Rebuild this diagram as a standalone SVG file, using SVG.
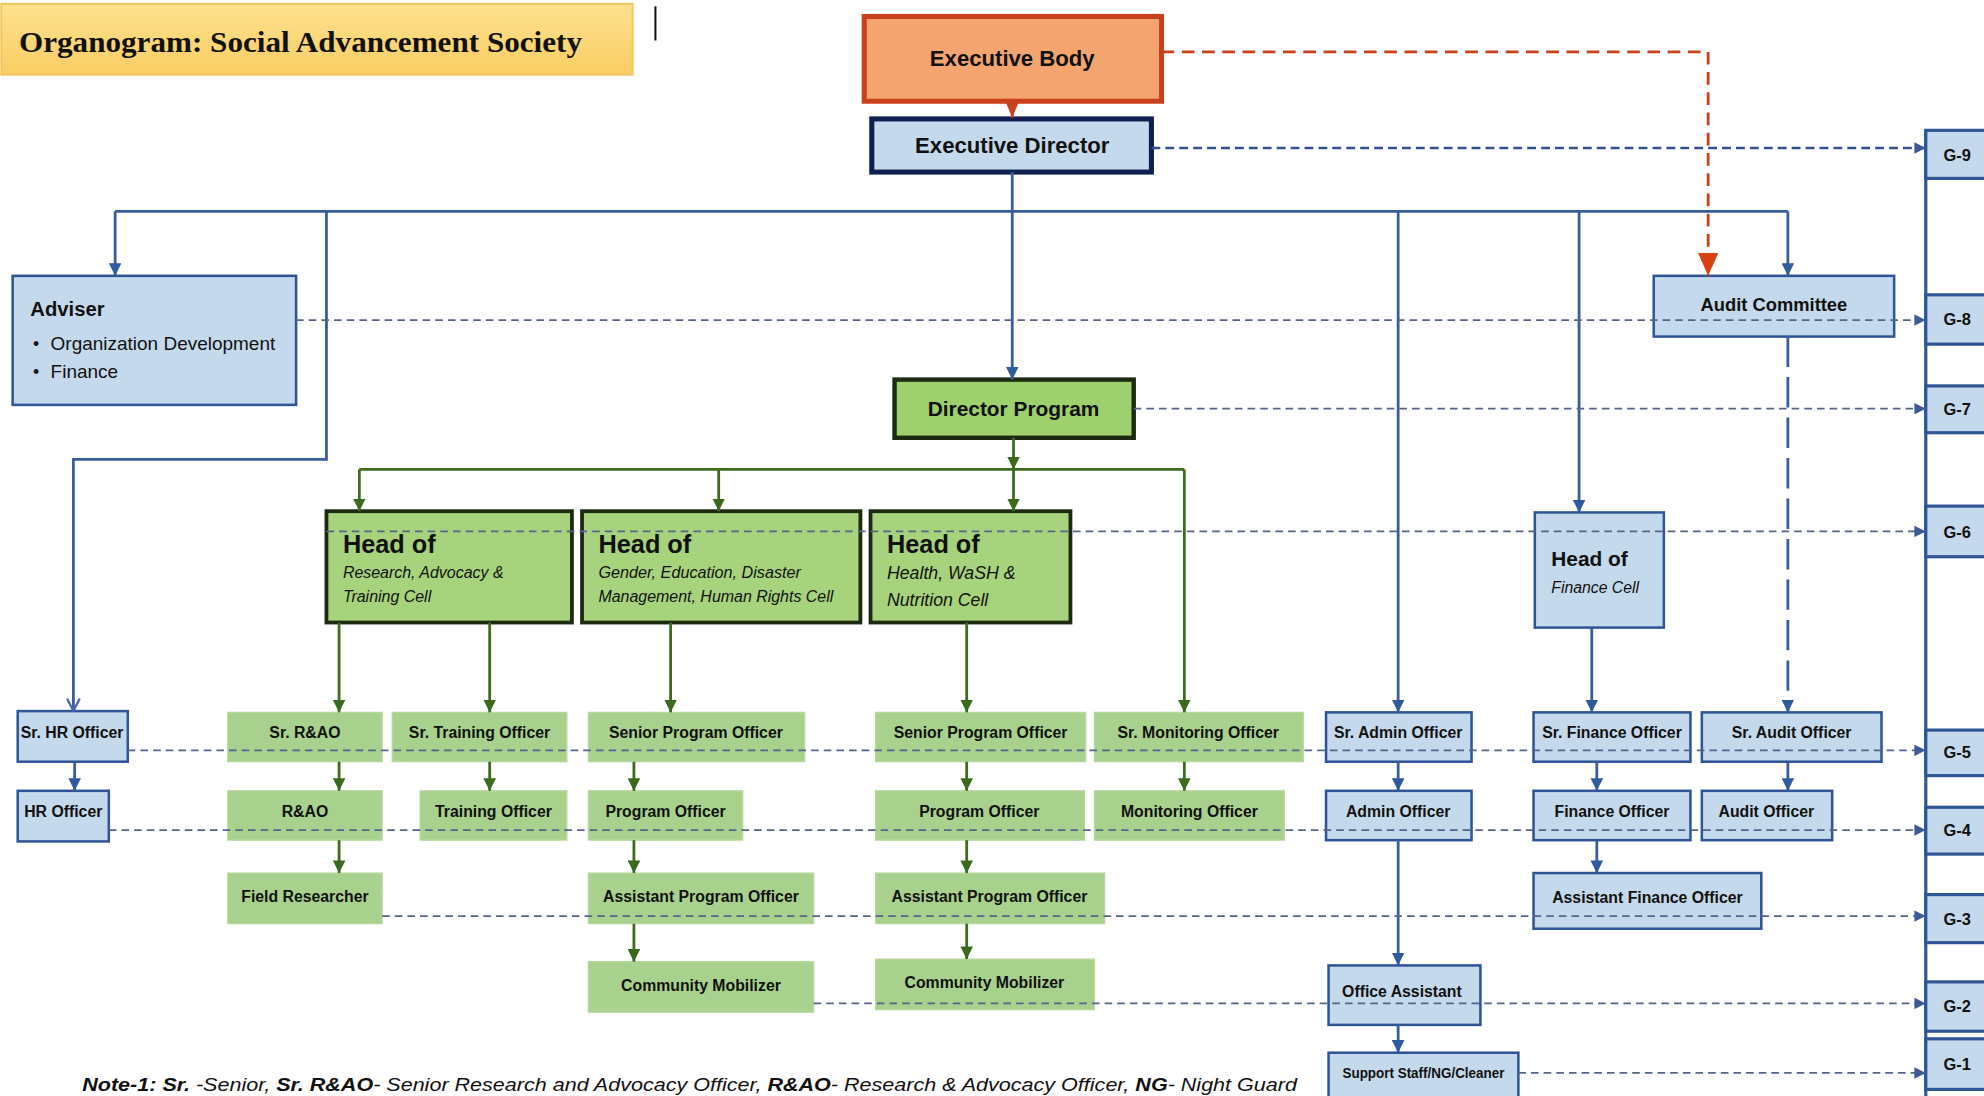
<svg xmlns="http://www.w3.org/2000/svg" width="1984" height="1096" viewBox="0 0 1984 1096">
<defs>
<linearGradient id="gTitle" x1="0" y1="0" x2="0" y2="1"><stop offset="0" stop-color="#fde18f"/><stop offset="1" stop-color="#f9cd63"/></linearGradient>
<marker id="aBlue" markerUnits="userSpaceOnUse" markerWidth="10" markerHeight="10" viewBox="0 0 10 10" refX="10" refY="5" orient="auto"><path d="M0,0 L10,5 L0,10 z" fill="#2f5a9e"/></marker>
<marker id="aOpen" markerUnits="userSpaceOnUse" markerWidth="12" markerHeight="12" viewBox="0 0 12 12" refX="11" refY="6" orient="auto"><path d="M1,1 L11,6 L1,11" fill="none" stroke="#4a68b0" stroke-width="1.8"/></marker>
<marker id="aGreen" markerUnits="userSpaceOnUse" markerWidth="10" markerHeight="10" viewBox="0 0 10 10" refX="10" refY="5" orient="auto"><path d="M0,0 L10,5 L0,10 z" fill="#3b6a1c"/></marker>
<marker id="aRed" markerUnits="userSpaceOnUse" markerWidth="12" markerHeight="10" viewBox="0 0 12 10" refX="12" refY="5" orient="auto"><path d="M0,0 L12,5 L0,10 z" fill="#c8401c"/></marker>
<marker id="aRedBig" markerUnits="userSpaceOnUse" markerWidth="18" markerHeight="16" viewBox="0 0 18 16" refX="18" refY="8" orient="auto"><path d="M0,0 L18,8 L0,16 z" fill="#d9400f"/></marker>
<marker id="aDash" markerUnits="userSpaceOnUse" markerWidth="9" markerHeight="9" viewBox="0 0 10 10" refX="10" refY="5" orient="auto"><path d="M0,0 L10,5 L0,10 z" fill="#3e5a96"/></marker>
</defs>
<style>
.t{font-family:"Liberation Sans Narrow","Liberation Sans",Arial,sans-serif;font-weight:bold;fill:#111;text-anchor:middle}
.g{font-family:"Liberation Sans Narrow","Liberation Sans",Arial,sans-serif;font-weight:bold;fill:#111;text-anchor:start;font-size:13px}
.s{font-family:"Liberation Sans Narrow","Liberation Sans",Arial,sans-serif;fill:#111}
.it{font-style:italic;font-weight:normal}
.blue{fill:#c4d9eb;stroke:#2f5597;stroke-width:2}
.green{fill:#a9d18e;stroke:#b7d9a0;stroke-width:1}
.head{fill:#a7d37d;stroke:#1b2a10;stroke-width:3}
.lb{fill:none;stroke:#3a5b9d;stroke-width:2.2}
.lg{fill:none;stroke:#3e6b1e;stroke-width:2.2}
.dl{fill:none;stroke:#56648a;stroke-width:1.4;stroke-dasharray:6 4}
.gb{fill:#c4d9eb;stroke:#2f5597;stroke-width:2.5}
</style>
<rect width="1984" height="1096" fill="#ffffff"/>
<g transform="scale(1.2653)">
<g id="title">
<rect x="1" y="3" width="499" height="56" fill="url(#gTitle)" stroke="#efc55c" stroke-width="1.5"/>
<text x="15" y="41" font-family="Liberation Serif, serif" font-weight="bold" font-size="24" fill="#111" textLength="445" lengthAdjust="spacingAndGlyphs">Organogram: Social Advancement Society</text>
<line x1="518" y1="5" x2="518" y2="32" stroke="#111" stroke-width="1.6"/>
</g>
<g id="nodes">
<g id="executive-body"><rect x="683" y="13" width="235" height="67" fill="#f4a46f" stroke="#c8401c" stroke-width="4"/><text class="t" x="800" y="52" font-size="17.5">Executive Body</text></g>
<g id="executive-director"><rect x="689" y="94" width="221" height="42" fill="#c4d9eb" stroke="#0f1f4f" stroke-width="4"/><text class="t" x="800" y="121" font-size="17.5">Executive Director</text></g>
<g id="adviser"><rect class="blue" x="10" y="218" width="224" height="102"/><text class="s" x="24" y="250" font-size="16" font-weight="bold">Adviser</text><text class="s" x="26" y="277" font-size="14">•</text><text class="s" x="40" y="277" font-size="15">Organization Development</text><text class="s" x="26" y="299" font-size="14">•</text><text class="s" x="40" y="299" font-size="15">Finance</text></g>
<g id="audit-committee"><rect class="blue" x="1307" y="218" width="190" height="48"/><text class="t" x="1402" y="246" font-size="14.5">Audit Committee</text></g>
<g id="director-program"><rect x="707" y="300" width="189" height="46" fill="#9ed06d" stroke="#1b2a10" stroke-width="3.5"/><text class="t" x="801" y="329" font-size="16.5">Director Program</text></g>
<g id="head-rat"><rect class="head" x="258" y="404" width="194" height="88"/><text class="s" x="271" y="437" font-size="20" font-weight="bold">Head of</text><text class="s it" x="271" y="457" font-size="12.6">Research, Advocacy &amp;</text><text class="s it" x="271" y="476" font-size="12.6">Training Cell</text></g>
<g id="head-gender"><rect class="head" x="460" y="404" width="220" height="88"/><text class="s" x="473" y="437" font-size="20" font-weight="bold">Head of</text><text class="s it" x="473" y="457" font-size="12.8">Gender, Education, Disaster</text><text class="s it" x="473" y="476" font-size="12.6">Management, Human Rights Cell</text></g>
<g id="head-health"><rect class="head" x="688" y="404" width="158" height="88"/><text class="s" x="701" y="437" font-size="20" font-weight="bold">Head of</text><text class="s it" x="701" y="458" font-size="14">Health, WaSH &amp;</text><text class="s it" x="701" y="479" font-size="14">Nutrition Cell</text></g>
<g id="head-finance"><rect class="blue" x="1213" y="405" width="102" height="91"/><text class="s" x="1226" y="447" font-size="16.5" font-weight="bold">Head of</text><text class="s it" x="1226" y="469" font-size="12.5">Finance Cell</text></g>
<g id="sr-hr"><rect class="blue" x="14" y="562" width="87" height="40"/><text class="t" x="57" y="583" font-size="12.5">Sr. HR Officer</text></g>
<g id="hr"><rect class="blue" x="14" y="625" width="72" height="40"/><text class="t" x="50" y="646" font-size="12.5">HR Officer</text></g>
<g id="sr-raao"><rect class="green" x="180" y="563" width="122" height="39"/><text class="t" x="241" y="583" font-size="12.5">Sr. R&amp;AO</text></g>
<g id="sr-training"><rect class="green" x="310" y="563" width="138" height="39"/><text class="t" x="379" y="583" font-size="12.5">Sr. Training Officer</text></g>
<g id="spo-1"><rect class="green" x="465" y="563" width="171" height="39"/><text class="t" x="550" y="583" font-size="12.5">Senior Program Officer</text></g>
<g id="spo-2"><rect class="green" x="692" y="563" width="166" height="39"/><text class="t" x="775" y="583" font-size="12.5">Senior Program Officer</text></g>
<g id="sr-monitoring"><rect class="green" x="865" y="563" width="165" height="39"/><text class="t" x="947" y="583" font-size="12.5">Sr. Monitoring Officer</text></g>
<g id="sr-admin"><rect class="blue" x="1048" y="563" width="115" height="39"/><text class="t" x="1105" y="583" font-size="12.5">Sr. Admin Officer</text></g>
<g id="sr-finance"><rect class="blue" x="1212" y="563" width="124" height="39"/><text class="t" x="1274" y="583" font-size="12.5">Sr. Finance Officer</text></g>
<g id="sr-audit"><rect class="blue" x="1345" y="563" width="142" height="39"/><text class="t" x="1416" y="583" font-size="12.5">Sr. Audit Officer</text></g>
<g id="raao"><rect class="green" x="180" y="625" width="122" height="39"/><text class="t" x="241" y="646" font-size="12.5">R&amp;AO</text></g>
<g id="training"><rect class="green" x="332" y="625" width="116" height="39"/><text class="t" x="390" y="646" font-size="12.5">Training Officer</text></g>
<g id="po-1"><rect class="green" x="465" y="625" width="122" height="39"/><text class="t" x="526" y="646" font-size="12.5">Program Officer</text></g>
<g id="po-2"><rect class="green" x="692" y="625" width="165" height="39"/><text class="t" x="774" y="646" font-size="12.5">Program Officer</text></g>
<g id="monitoring"><rect class="green" x="865" y="625" width="150" height="39"/><text class="t" x="940" y="646" font-size="12.5">Monitoring Officer</text></g>
<g id="admin"><rect class="blue" x="1048" y="625" width="115" height="39"/><text class="t" x="1105" y="646" font-size="12.5">Admin Officer</text></g>
<g id="finance"><rect class="blue" x="1212" y="625" width="124" height="39"/><text class="t" x="1274" y="646" font-size="12.5">Finance Officer</text></g>
<g id="audit"><rect class="blue" x="1345" y="625" width="103" height="39"/><text class="t" x="1396" y="646" font-size="12.5">Audit Officer</text></g>
<g id="field-researcher"><rect class="green" x="180" y="690" width="122" height="40"/><text class="t" x="241" y="713" font-size="12.5">Field Researcher</text></g>
<g id="apo-1"><rect class="green" x="465" y="690" width="178" height="40"/><text class="t" x="554" y="713" font-size="12.5">Assistant Program Officer</text></g>
<g id="apo-2"><rect class="green" x="692" y="690" width="181" height="40"/><text class="t" x="782" y="713" font-size="12.5">Assistant Program Officer</text></g>
<g id="asst-finance"><rect class="blue" x="1212" y="690" width="180" height="44"/><text class="t" x="1302" y="714" font-size="12.5">Assistant Finance Officer</text></g>
<g id="cm-1"><rect class="green" x="465" y="760" width="178" height="40"/><text class="t" x="554" y="783" font-size="12.5">Community Mobilizer</text></g>
<g id="cm-2"><rect class="green" x="692" y="758" width="173" height="40"/><text class="t" x="778" y="781" font-size="12.5">Community Mobilizer</text></g>
<g id="office-assistant"><rect class="blue" x="1050" y="763" width="120" height="47"/><text class="t" x="1108" y="788" font-size="12.5">Office Assistant</text></g>
<g id="support-staff"><rect class="blue" x="1050" y="832" width="150" height="40"/><text class="t" x="1125" y="852" font-size="11.5" textLength="128" lengthAdjust="spacingAndGlyphs">Support Staff/NG/Cleaner</text></g>
<g id="grades">
<line x1="1522" y1="103" x2="1522" y2="870" stroke="#2f5597" stroke-width="2.5"/>
<rect class="gb" x="1522" y="103" width="70" height="38"/><text class="g" x="1536" y="127">G-9</text>
<rect class="gb" x="1522" y="233" width="70" height="39"/><text class="g" x="1536" y="257">G-8</text>
<rect class="gb" x="1522" y="305" width="70" height="37"/><text class="g" x="1536" y="328">G-7</text>
<rect class="gb" x="1522" y="400" width="70" height="40"/><text class="g" x="1536" y="425">G-6</text>
<rect class="gb" x="1522" y="577" width="70" height="36"/><text class="g" x="1536" y="599">G-5</text>
<rect class="gb" x="1522" y="638" width="70" height="37"/><text class="g" x="1536" y="661">G-4</text>
<rect class="gb" x="1522" y="707" width="70" height="38"/><text class="g" x="1536" y="731">G-3</text>
<rect class="gb" x="1522" y="776" width="70" height="39"/><text class="g" x="1536" y="800">G-2</text>
<rect class="gb" x="1522" y="821" width="70" height="40"/><text class="g" x="1536" y="846">G-1</text>
</g>
</g>
<g id="connectors">
<path d="M800,80 V93" fill="none" stroke="#c8401c" stroke-width="2.2" marker-end="url(#aRed)"/>
<path d="M918,41 H1350 V218" fill="none" stroke="#c8401c" stroke-width="2.2" stroke-dasharray="10 6" marker-end="url(#aRedBig)"/>
<path class="lb" d="M800,136 V300" marker-end="url(#aBlue)"/>
<path class="lb" d="M91,167 H1413"/>
<path class="lb" d="M91,167 V218" marker-end="url(#aBlue)"/>
<path class="lb" d="M1413,167 V218" marker-end="url(#aBlue)"/>
<path class="lb" d="M258,167 V363 H58 V562" marker-end="url(#aOpen)"/>
<path class="lb" d="M1105,167 V563" marker-end="url(#aBlue)"/>
<path class="lb" d="M1248,167 V405" marker-end="url(#aBlue)"/>
<path class="lb" d="M1413,266 V563" stroke-dasharray="24 8" marker-end="url(#aBlue)"/>
<path class="lb" d="M1258,496 V563" marker-end="url(#aBlue)"/>
<path class="lb" d="M59,602 V625" marker-end="url(#aBlue)"/>
<path class="lb" d="M1105,602 V625" marker-end="url(#aBlue)"/>
<path class="lb" d="M1262,602 V625" marker-end="url(#aBlue)"/>
<path class="lb" d="M1413,602 V625" marker-end="url(#aBlue)"/>
<path class="lb" d="M1262,664 V690" marker-end="url(#aBlue)"/>
<path class="lb" d="M1105,664 V763" marker-end="url(#aBlue)"/>
<path class="lb" d="M1105,810 V832" marker-end="url(#aBlue)"/>
<path class="lg" d="M801,346 V371" marker-end="url(#aGreen)"/>
<path class="lg" d="M284,371 H936"/>
<path class="lg" d="M284,371 V404" marker-end="url(#aGreen)"/>
<path class="lg" d="M568,371 V404" marker-end="url(#aGreen)"/>
<path class="lg" d="M801,371 V404" marker-end="url(#aGreen)"/>
<path class="lg" d="M936,371 V563" marker-end="url(#aGreen)"/>
<path class="lg" d="M268,492 V563" marker-end="url(#aGreen)"/>
<path class="lg" d="M387,492 V563" marker-end="url(#aGreen)"/>
<path class="lg" d="M530,492 V563" marker-end="url(#aGreen)"/>
<path class="lg" d="M764,492 V563" marker-end="url(#aGreen)"/>
<path class="lg" d="M268,602 V625" marker-end="url(#aGreen)"/>
<path class="lg" d="M387,602 V625" marker-end="url(#aGreen)"/>
<path class="lg" d="M501,602 V625" marker-end="url(#aGreen)"/>
<path class="lg" d="M764,602 V625" marker-end="url(#aGreen)"/>
<path class="lg" d="M936,602 V625" marker-end="url(#aGreen)"/>
<path class="lg" d="M268,664 V690" marker-end="url(#aGreen)"/>
<path class="lg" d="M501,664 V690" marker-end="url(#aGreen)"/>
<path class="lg" d="M764,664 V690" marker-end="url(#aGreen)"/>
<path class="lg" d="M501,730 V760" marker-end="url(#aGreen)"/>
<path class="lg" d="M764,730 V758" marker-end="url(#aGreen)"/>
<path d="M910,117 H1522" fill="none" stroke="#34508f" stroke-width="2" stroke-dasharray="7 4" marker-end="url(#aDash)"/>
<path class="dl" d="M234,253 H1522" marker-end="url(#aDash)"/>
<path class="dl" d="M896,323 H1522" marker-end="url(#aDash)"/>
<path class="dl" d="M258,420 H1522" marker-end="url(#aDash)"/>
<path class="dl" d="M101,593 H1522" marker-end="url(#aDash)"/>
<path class="dl" d="M86,656 H1522" marker-end="url(#aDash)"/>
<path class="dl" d="M302,724 H1522" marker-end="url(#aDash)"/>
<path class="dl" d="M643,793 H1522" marker-end="url(#aDash)"/>
<path class="dl" d="M1200,848 H1522" marker-end="url(#aDash)"/>
</g>
<g id="note">
<text x="65" y="862" font-family="Liberation Sans Narrow, Liberation Sans, sans-serif" font-style="italic" font-size="15" fill="#111" textLength="960" lengthAdjust="spacingAndGlyphs"><tspan font-weight="bold">Note-1: Sr.</tspan> -Senior, <tspan font-weight="bold">Sr. R&amp;AO</tspan>- Senior Research and Advocacy Officer, <tspan font-weight="bold">R&amp;AO</tspan>- Research &amp; Advocacy Officer, <tspan font-weight="bold">NG</tspan>- Night Guard</text>
</g>
</g>
</svg>
